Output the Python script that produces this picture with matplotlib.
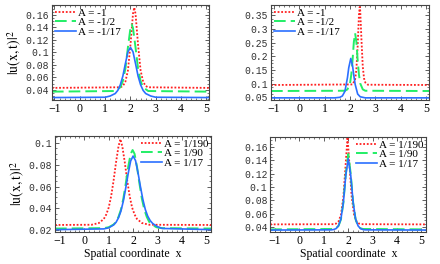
import matplotlib
matplotlib.use("Agg")
import matplotlib.pyplot as plt
from matplotlib.ticker import FuncFormatter, AutoMinorLocator

plt.rcParams['mathtext.fontset'] = 'stix'

# ---- data ----
# panel A (top left)
a_red_x = [-1.1, 1.6, 1.7, 1.8, 1.9, 2.0, 2.1, 2.15, 2.2, 2.3, 2.4, 2.5, 2.6, 2.7, 5.1]
a_red_y = [0.043, 0.044, 0.046, 0.053, 0.071, 0.112, 0.162, 0.172, 0.162, 0.112, 0.071, 0.053, 0.046, 0.044, 0.043]
a_grn_x = [-1.1, 1.4, 1.6, 1.7, 1.8, 1.9, 2.0, 2.05, 2.1, 2.2, 2.3, 2.4, 2.5, 2.7, 5.1]
a_grn_y = [0.037, 0.038, 0.044, 0.054, 0.074, 0.108, 0.139, 0.145, 0.139, 0.108, 0.074, 0.054, 0.044, 0.038, 0.037]
a_blu_x = [-1.1, 1.0, 1.2, 1.4, 1.5, 1.6, 1.7, 1.8, 1.9, 2.0, 2.1, 2.2, 2.3, 2.4, 2.5, 2.6, 2.8, 3.0, 5.1]
a_blu_y = [0.0275, 0.028, 0.030, 0.034, 0.039, 0.048, 0.062, 0.082, 0.101, 0.108, 0.101, 0.082, 0.062, 0.048, 0.039, 0.034, 0.030, 0.028, 0.0275]

# panel B (top right)
b_red_x = [-1.1, 2.1, 2.2, 2.25, 2.3, 2.35, 2.38, 2.4, 2.45, 2.5, 2.55, 2.6, 2.7, 5.1]
b_red_y = [0.095, 0.097, 0.115, 0.152, 0.237, 0.351, 0.380, 0.367, 0.258, 0.163, 0.119, 0.104, 0.096, 0.095]
b_grn_x = [-1.1, 1.8, 1.9, 2.0, 2.05, 2.1, 2.15, 2.2, 2.25, 2.3, 2.35, 2.4, 2.5, 2.6, 5.1]
b_grn_y = [0.073, 0.074, 0.079, 0.101, 0.133, 0.186, 0.252, 0.284, 0.252, 0.186, 0.133, 0.101, 0.079, 0.074, 0.073]
b_blu_x = [-1.1, 1.4, 1.6, 1.7, 1.8, 1.9, 1.95, 2.03, 2.1, 2.15, 2.2, 2.3, 2.4, 2.6, 5.1]
b_blu_y = [0.048, 0.048, 0.050, 0.055, 0.072, 0.122, 0.158, 0.192, 0.165, 0.129, 0.098, 0.062, 0.052, 0.048, 0.048]

# panel C (bottom left)
c_red_x = [-1.2, 0.3, 0.6, 0.8, 0.9, 1.0, 1.1, 1.2, 1.3, 1.4, 1.48, 1.56, 1.66, 1.76, 1.86, 1.96, 2.06, 2.16, 2.36, 2.66, 5.2]
c_red_y = [0.0248, 0.025, 0.0266, 0.0303, 0.0344, 0.0407, 0.0511, 0.0654, 0.0821, 0.0966, 0.1035, 0.0966, 0.0821, 0.0654, 0.0511, 0.0407, 0.0344, 0.0303, 0.0266, 0.025, 0.0248]
c_grn_x = [-1.2, 0.8, 1.0, 1.2, 1.3, 1.4, 1.5, 1.6, 1.7, 1.8, 1.9, 1.98, 2.06, 2.16, 2.26, 2.36, 2.46, 2.56, 2.66, 2.76, 2.96, 3.16, 5.2]
c_grn_y = [0.0215, 0.0219, 0.0227, 0.0252, 0.0276, 0.0322, 0.0388, 0.0489, 0.0628, 0.0781, 0.0900, 0.0935, 0.0900, 0.0781, 0.0628, 0.0489, 0.0388, 0.0322, 0.0276, 0.0252, 0.0227, 0.0219, 0.0215]
c_blu_x = [-1.2, 0.8, 1.0, 1.2, 1.3, 1.4, 1.5, 1.6, 1.7, 1.8, 1.9, 2.0, 2.1, 2.2, 2.3, 2.4, 2.5, 2.6, 2.7, 2.8, 3.0, 3.2, 5.2]
c_blu_y = [0.0205, 0.0212, 0.0222, 0.0248, 0.0272, 0.0313, 0.0374, 0.0467, 0.0589, 0.0721, 0.0835, 0.0880, 0.0838, 0.0728, 0.0600, 0.0482, 0.0390, 0.0328, 0.0288, 0.0262, 0.0232, 0.0216, 0.0205]

# panel D (bottom right)
d_red_x = [-1.2, 1.4, 1.5, 1.6, 1.7, 1.8, 1.9, 1.97, 2.04, 2.14, 2.24, 2.34, 2.44, 2.54, 5.2]
d_red_y = [0.044, 0.0443, 0.0452, 0.0484, 0.0582, 0.0852, 0.138, 0.175, 0.138, 0.0852, 0.0582, 0.0484, 0.0452, 0.0443, 0.044]
d_grn_x = [-1.2, 1.4, 1.5, 1.6, 1.7, 1.8, 1.9, 2.0, 2.1, 2.2, 2.3, 2.4, 2.5, 2.6, 5.2]
d_grn_y = [0.0365, 0.0371, 0.0382, 0.0417, 0.0515, 0.0765, 0.1201, 0.1495, 0.1201, 0.0765, 0.0515, 0.0417, 0.0382, 0.0371, 0.0365]
d_blu_x = [-1.2, 1.3, 1.4, 1.5, 1.6, 1.7, 1.8, 1.9, 2.0, 2.1, 2.2, 2.3, 2.4, 2.5, 2.6, 2.7, 5.2]
d_blu_y = [0.0355, 0.0358, 0.0363, 0.0377, 0.0419, 0.0522, 0.0771, 0.1180, 0.1425, 0.1180, 0.0771, 0.0522, 0.0419, 0.0377, 0.0363, 0.0358, 0.0355]

labels_top = ['A = -1', 'A = -1/2', 'A = -1/17']
labels_bot = ['A = 1/190', 'A = 1/90', 'A = 1/17']

yticks_a = [0.04, 0.06, 0.08, 0.10, 0.12, 0.14, 0.16]
yticks_b = [0.05, 0.10, 0.15, 0.20, 0.25, 0.30, 0.35]
yticks_c = [0.02, 0.04, 0.06, 0.08, 0.10]
yticks_d = [0.04, 0.06, 0.08, 0.10, 0.12, 0.14, 0.16]
xticks = [-1, 0, 1, 2, 3, 4, 5]

RED = '#ff2020'
GRN = '#22ee66'
BLU = '#2a6fff'

fig = plt.figure(figsize=(4.4, 2.64), dpi=100)

panels = [
    ([0.118, 0.621, 0.357, 0.360], (-1.1, 5.1), (0.0235, 0.176), yticks_a,
     (a_red_x, a_red_y), (a_grn_x, a_grn_y), (a_blu_x, a_blu_y), labels_top, 'upper left', True, False),
    ([0.616, 0.621, 0.359, 0.360], (-1.1, 5.1), (0.040, 0.387), yticks_b,
     (b_red_x, b_red_y), (b_grn_x, b_grn_y), (b_blu_x, b_blu_y), labels_top, 'upper left', False, False),
    ([0.125, 0.121, 0.355, 0.364], (-1.2, 5.2), (0.0183, 0.1064), yticks_c,
     (c_red_x, c_red_y), (c_grn_x, c_grn_y), (c_blu_x, c_blu_y), labels_bot, 'upper right', True, True),
    ([0.614, 0.121, 0.355, 0.360], (-1.2, 5.2), (0.0325, 0.175), yticks_d,
     (d_red_x, d_red_y), (d_grn_x, d_grn_y), (d_blu_x, d_blu_y), labels_bot, 'upper right', False, True),
]

fmt = FuncFormatter(lambda v, p: '%g' % round(v, 3))

for rect, xl, yl, yt, red, grn, blu, labs, loc, ylab, xlab in panels:
    ax = fig.add_axes(rect)
    ax.plot(red[0], red[1], color=RED, ls=(0, (1, 1)), lw=1.3, label=labs[0])
    ax.plot(grn[0], grn[1], color=GRN, ls=(0, (6, 2.6)), lw=1.4, label=labs[1])
    ax.plot(blu[0], blu[1], color=BLU, ls='-', lw=1.2, label=labs[2])
    ax.set_xlim(*xl)
    ax.set_ylim(*yl)
    ax.set_xticks(xticks)
    ax.set_yticks(yt)
    ax.yaxis.set_major_formatter(fmt)
    ax.xaxis.set_minor_locator(AutoMinorLocator(5))
    ax.yaxis.set_minor_locator(AutoMinorLocator(4))
    ax.tick_params(which='both', direction='in', top=True, right=True, color='#444444')
    ax.tick_params(which='major', length=3, width=0.6)
    ax.tick_params(which='minor', length=1.5, width=0.5)
    ax.tick_params(axis='x', pad=2)
    ax.tick_params(axis='y', pad=2)
    for lab in ax.get_yticklabels():
        lab.set_fontfamily('Liberation Mono')
        lab.set_fontsize(7)
        lab.set_color('#333333')
    for lab in ax.get_xticklabels():
        lab.set_fontfamily('Liberation Serif')
        lab.set_fontsize(8.5)
    for s in ax.spines.values():
        s.set_color('#444444')
        s.set_linewidth(0.8)
    if ylab:
        ax.set_ylabel(r'$|\mathrm{u(x,t)}|^2$', fontsize=10, labelpad=1)
    if xlab:
        ax.set_xlabel('Spatial coordinate  x', fontfamily='Liberation Serif', fontsize=8.5, labelpad=1)
    leg = ax.legend(loc=loc, frameon=False, prop={'family': 'Liberation Serif', 'size': 8},
                    handlelength=1.9, handletextpad=0.2, labelspacing=0.0,
                    borderaxespad=0.15, borderpad=0.1)

fig.savefig('out.png', dpi=100)
